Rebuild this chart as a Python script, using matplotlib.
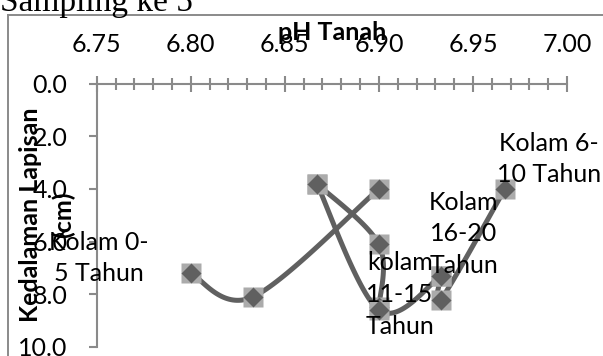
import numpy as np
import matplotlib
matplotlib.use("Agg")
import matplotlib.pyplot as plt
from matplotlib.lines import Line2D

# --- data -------------------------------------------------------------
series_names = ["Kolam 0-5 Tahun", "Kolam 6-10 Tahun",
                "kolam 11-15 Tahun", "Kolam 16-20 Tahun"]
ph_0_5 = [6.800, 6.833, 6.900]
depth_0_5 = [7.2, 8.1, 4.0]
ph_6_10 = [6.933, 6.933, 6.967]
depth_6_10 = [7.3, 8.2, 4.0]
ph_11_15 = [6.867, 6.900, 6.900]
depth_11_15 = [3.8, 6.1, 8.5]
ph_16_20 = [6.867, 6.900, 6.933]
depth_16_20 = [3.8, 8.6, 7.3]

x_ticks = [6.75, 6.80, 6.85, 6.90, 6.95, 7.00]
y_ticks = [0.0, 2.0, 4.0, 6.0, 8.0, 10.0]

# series labels: text, index of the anchoring point, offset in pixels
label_text = ["Kolam 0-\n5 Tahun", "Kolam 6-\n10 Tahun",
              "kolam\n11-15\nTahun", "Kolam\n16-20\nTahun"]
label_point = [0, 2, 2, 2]
label_offset = [(-92, 15), (44, 30), (21, 13), (23, 42)]

FONT = "Lato"
FS = 18
LINE_C = "#606060"
MARK_BG = "#ababab"
AXIS_C = "#8a8a8a"

W, H = 603, 356
fig = plt.figure(figsize=(W / 100, H / 100), dpi=100)

# heading text of the page, partly cut off at the top
fig.text(0, 1 - 11 / H, "Sampling ke 5", family="Liberation Serif",
         fontsize=24, ha="left", va="baseline", color="black")

# chart frame
fig.add_artist(Line2D([8 / W, 8 / W], [0, 1 - 15 / H], color=AXIS_C,
                      lw=1.4, transform=fig.transFigure))
fig.add_artist(Line2D([8 / W, 1], [1 - 15 / H, 1 - 15 / H], color=AXIS_C,
                      lw=1.4, transform=fig.transFigure))

x0, x1 = 96.7, 567.0
y0, y1 = 83.5, 347.0
ax = fig.add_axes([x0 / W, 1 - y1 / H, (x1 - x0) / W, (y1 - y0) / H])
ax.set_xlim(6.75, 7.00)
ax.set_ylim(10, 0)
ax.patch.set_alpha(0)

for s in ("right", "bottom"):
    ax.spines[s].set_visible(False)
for s in ("left", "top"):
    ax.spines[s].set_color(AXIS_C)
    ax.spines[s].set_linewidth(1.5)

ax.xaxis.tick_top()
ax.set_xticks(x_ticks)
ax.set_xticks(np.arange(6.75, 7.0001, 0.01), minor=True)
ax.set_xticklabels([f"{v:.2f}" for v in x_ticks])
ax.tick_params(axis="x", which="major", direction="inout", length=11,
               width=1.5, color=AXIS_C, pad=14, labelsize=FS)
ax.tick_params(axis="x", which="minor", direction="inout", length=8,
               width=1.5, color=AXIS_C)
ax.set_yticks(y_ticks)
ax.set_yticklabels([f"{v:.1f}" for v in y_ticks])
ax.tick_params(axis="y", which="major", direction="out", length=6,
               width=1.5, color=AXIS_C, pad=15, labelsize=FS)
for lab in ax.get_xticklabels() + ax.get_yticklabels():
    lab.set_family(FONT)


def smooth(xs, ys, n=40):
    """Cubic Bezier smoothing through the points, computed in display space."""
    pts = ax.transData.transform(np.column_stack([xs, ys]))
    out = [pts[0]]
    t = np.linspace(0, 1, n)[1:, None]
    for i in range(len(pts) - 1):
        p0 = pts[i - 1] if i > 0 else pts[i]
        p1, p2 = pts[i], pts[i + 1]
        p3 = pts[i + 2] if i + 2 < len(pts) else pts[i + 1]
        c1 = p1 + (p2 - p0) / 6
        c2 = p2 - (p3 - p1) / 6
        seg = ((1 - t) ** 3) * p1 + 3 * ((1 - t) ** 2) * t * c1 \
            + 3 * (1 - t) * t ** 2 * c2 + t ** 3 * p2
        out.extend(seg)
    return ax.transData.inverted().transform(np.array(out))


all_x = [ph_0_5, ph_6_10, ph_11_15, ph_16_20]
all_y = [depth_0_5, depth_6_10, depth_11_15, depth_16_20]

for k, (xs, ys) in enumerate(zip(all_x, all_y)):
    curve = smooth(xs, ys)
    ax.plot(curve[:, 0], curve[:, 1], color=LINE_C, lw=3.6,
            solid_capstyle="round", zorder=2 + k, clip_on=False)
    ax.plot(xs, ys, ls="none", marker="s", ms=14, mfc=MARK_BG,
            mec="none", zorder=2 + k, clip_on=False, label=series_names[k])
    ax.plot(xs, ys, ls="none", marker="D", ms=10, mfc=LINE_C,
            mec="none", zorder=2 + k, clip_on=False)

for k in range(4):
    i = label_point[k]
    ax.annotate(label_text[k], (all_x[k][i], all_y[k][i]),
                xytext=label_offset[k], textcoords="offset pixels",
                ha="center", va="center", fontsize=FS, family=FONT,
                linespacing=1.45, zorder=10)

# axis titles
fig.text(332 / W, 1 - 33 / H, "pH Tanah", family=FONT, fontsize=FS,
         fontweight="bold", ha="center", va="center")
fig.text(47 / W, 1 - 215 / H, "Kedalaman Lapisan\n(cm)", family=FONT,
         fontsize=FS, fontweight="bold", ha="center", va="center",
         rotation=90, linespacing=1.5)

fig.savefig("out.png", dpi=100)
